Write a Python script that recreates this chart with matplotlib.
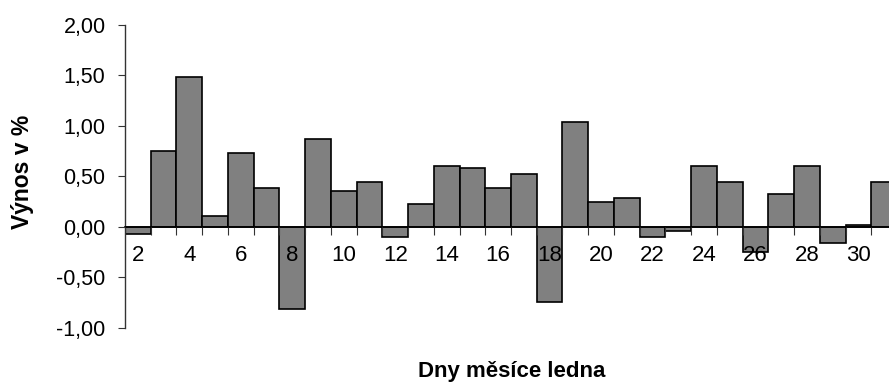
import matplotlib
matplotlib.use("Agg")
import matplotlib.pyplot as plt
from matplotlib.ticker import FixedLocator, FuncFormatter
import numpy as np

plt.rcParams['font.family'] = ['Liberation Sans', 'DejaVu Sans']

days = list(range(2, 32))
returns = [-0.07, 0.75, 1.48, 0.11, 0.73, 0.38, -0.81, 0.87, 0.35, 0.44,
           -0.10, 0.23, 0.60, 0.58, 0.38, 0.52, -0.75, 1.04, 0.25, 0.29,
           -0.10, -0.04, 0.60, 0.44, -0.25, 0.33, 0.60, -0.16, 0.02, 0.44]
tick_labels = [str(d) for d in range(2, 31, 2)]
y_ticks = [-1.0, -0.5, 0.0, 0.5, 1.0, 1.5, 2.0]
x_title = "Dny měsíce ledna"
y_title = "Výnos v %"

W, H = 889, 382
fig = plt.figure(figsize=(W / 100, H / 100), dpi=100)
left_px, right_px = 125, 897
top_px, bot_px = 25, 327.7
ax = fig.add_axes([left_px / W, 1 - bot_px / H, (right_px - left_px) / W, (bot_px - top_px) / H])

ax.bar(days, returns, width=1.0, color='#808080', edgecolor='black', linewidth=1.2, zorder=1)
ax.set_axisbelow(False)

ax.set_xlim(days[0] - 0.5, days[-1] + 0.5)
ax.set_ylim(-1.0, 2.0)

for s in ['top', 'right']:
    ax.spines[s].set_visible(False)
ax.spines['bottom'].set_position(('data', 0))
ax.spines['bottom'].set_linewidth(1.2)
ax.spines['left'].set_linewidth(1.0)
ax.spines['left'].set_color('#333333')

# x: major ticks at category boundaries, labels as minor ticks at even days
ax.xaxis.set_major_locator(FixedLocator(np.arange(days[0] + 0.5, days[-1] + 0.5, 1.0)))
ax.xaxis.set_major_formatter(FuncFormatter(lambda v, p: ''))
ax.xaxis.set_minor_locator(FixedLocator([int(t) for t in tick_labels]))
ax.xaxis.set_minor_formatter(FuncFormatter(lambda v, p: str(int(round(v)))))
ax.tick_params(axis='x', which='major', direction='out', length=5.5, width=0.8, color='#333333')
ax.tick_params(axis='x', which='minor', length=0, pad=13, labelsize=16)

ax.set_yticks(y_ticks)
ax.yaxis.set_major_formatter(FuncFormatter(lambda v, p: f"{v:.2f}".replace('.', ',')))
ax.tick_params(axis='y', direction='out', length=5, width=0.8, color='#333333', pad=9, labelsize=15.5)

fig.text(512 / W, 1 - 377 / H, x_title, ha='center', va='baseline', fontsize=16, fontweight='bold')
fig.text(22 / W, 1 - 172 / H, y_title, ha='center', va='center', rotation=90, fontsize=16.5, fontweight='bold')

fig.savefig('out.png', dpi=100)
